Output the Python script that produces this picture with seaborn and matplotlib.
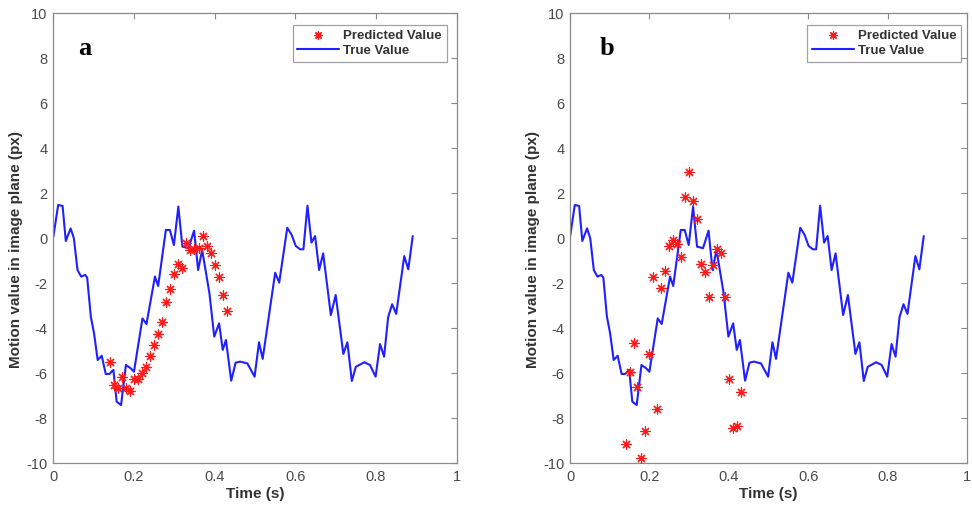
import matplotlib
matplotlib.use("Agg")
import matplotlib.pyplot as plt
import seaborn as sns
import numpy as np
import pandas as pd
from matplotlib.lines import Line2D

# ---------------- data ----------------
true_time = [0.000, 0.012, 0.023, 0.031, 0.043, 0.051, 0.060, 0.069, 0.079, 0.084,
             0.093, 0.101, 0.110, 0.120, 0.130, 0.139, 0.149, 0.157, 0.168, 0.180,
             0.192, 0.200, 0.221, 0.231, 0.252, 0.260, 0.279, 0.289, 0.299, 0.310,
             0.320, 0.335, 0.349, 0.359, 0.369, 0.387, 0.399, 0.411, 0.420, 0.428,
             0.441, 0.452, 0.463, 0.481, 0.499, 0.510, 0.519, 0.550, 0.560, 0.580,
             0.591, 0.601, 0.612, 0.620, 0.630, 0.640, 0.649, 0.659, 0.669, 0.688,
             0.700, 0.719, 0.729, 0.740, 0.750, 0.771, 0.785, 0.799, 0.810, 0.820,
             0.830, 0.840, 0.850, 0.870, 0.880, 0.891]
true_value = [0.05, 1.48, 1.44, -0.12, 0.44, 0.00, -1.41, -1.70, -1.63, -1.75,
              -3.48, -4.22, -5.41, -5.22, -6.03, -6.03, -5.85, -7.26, -7.41, -5.63,
              -5.78, -5.93, -3.56, -3.81, -1.70, -2.12, 0.37, 0.37, -0.30, 1.41,
              -0.37, -0.44, 0.34, -1.41, -0.52, -2.44, -4.37, -3.78, -4.96, -4.52,
              -6.33, -5.53, -5.48, -5.56, -6.15, -4.62, -5.36, -1.53, -1.97, 0.47,
              0.15, -0.34, -0.49, -0.49, 1.45, -0.19, 0.10, -1.41, -0.67, -3.41,
              -2.52, -5.14, -4.62, -6.34, -5.71, -5.51, -5.63, -6.15, -4.70, -5.26,
              -3.51, -2.93, -3.36, -0.79, -1.38, 0.10]

pred_time = [0.14, 0.15, 0.16, 0.17, 0.18, 0.19, 0.20, 0.21, 0.22, 0.23,
             0.24, 0.25, 0.26, 0.27, 0.28, 0.29, 0.30, 0.31, 0.32, 0.33,
             0.34, 0.35, 0.36, 0.37, 0.38, 0.39, 0.40, 0.41, 0.42, 0.43]
pred_a = [-5.48, -6.52, -6.67, -6.15, -6.67, -6.77, -6.25, -6.27, -6.00, -5.73,
          -5.22, -4.74, -4.25, -3.70, -2.82, -2.27, -1.59, -1.14, -1.33, -0.22,
          -0.52, -0.49, -0.44, 0.10, -0.34, -0.64, -1.19, -1.71, -2.52, -3.22]
pred_b = [-9.14, -5.96, -4.64, -6.62, -9.75, -8.56, -5.14, -1.73, -7.60, -2.22,
          -1.45, -0.34, -0.07, -0.27, -0.82, 1.85, 2.93, 1.66, 0.84, -1.16,
          -1.48, -2.62, -1.19, -0.49, -0.65, -2.62, -6.25, -8.44, -8.33, -6.82]

panel_labels = ["a", "b"]
legend_labels = ["Predicted Value", "True Value"]
x_ticks = [0, 0.2, 0.4, 0.6, 0.8, 1]
x_tick_labels = ["0", "0.2", "0.4", "0.6", "0.8", "1"]
y_ticks = [-10, -8, -6, -4, -2, 0, 2, 4, 6, 8, 10]

# ---------------- style ----------------
sns.set_theme(style="white")
plt.rcParams["font.family"] = ["Liberation Sans", "DejaVu Sans"]
plt.rcParams["axes.unicode_minus"] = False

W, H = 972, 507
fig = plt.figure(figsize=(W / 100, H / 100), dpi=100)

spine_col = "#8a8a8a"
tick_col = "#4a4a4a"
label_col = "#333333"
line_col = "#2020ff"
star_col = "#ff1a1a"
asterisk = (8, 2, 0)

true_df = pd.DataFrame({"Time": true_time, "Value": true_value})

boxes = [(53.3, 13.3, 456.7, 463.3), (570.0, 13.3, 967.0, 463.3)]
preds = [pred_a, pred_b]

for i, (x0, y0, x1, y1) in enumerate(boxes):
    ax = fig.add_axes([x0 / W, 1 - y1 / H, (x1 - x0) / W, (y1 - y0) / H])
    pdf = pd.DataFrame({"Time": pred_time, "Value": preds[i]})
    sns.scatterplot(data=pdf, x="Time", y="Value", ax=ax, marker=asterisk,
                    color=star_col, s=44, linewidths=0.85, zorder=3)
    sns.lineplot(data=true_df, x="Time", y="Value", ax=ax, sort=False,
                 estimator=None, color=line_col, lw=1.5, zorder=2)

    ax.set_xlim(0, 1)
    ax.set_ylim(-10, 10)
    ax.set_xticks(x_ticks)
    ax.set_xticklabels(x_tick_labels)
    ax.set_yticks(y_ticks)
    ax.tick_params(direction="in", length=4, width=0.8, colors=spine_col,
                   labelcolor=tick_col, labelsize=10.5, top=True, right=True)
    ax.tick_params(axis="x", pad=5)
    ax.tick_params(axis="y", pad=4)
    for sp in ax.spines.values():
        sp.set_visible(True)
        sp.set_color(spine_col)
        sp.set_linewidth(0.9)

    ax.set_xlabel("Time (s)", fontsize=11, fontweight="bold", color=label_col,
                  labelpad=2)
    ax.set_ylabel("Motion value in image plane (px)", fontsize=11,
                  fontweight="bold", color=label_col, labelpad=4)
    ax.yaxis.set_label_coords(-0.075 if i == 0 else -0.076, 0.475)

    handles = [Line2D([], [], marker=asterisk, color=star_col, linestyle="None",
                      markersize=6, markeredgewidth=0.9),
               Line2D([], [], color=line_col, lw=1.5)]
    ax_w = x1 - x0
    ax_h = y1 - y0
    leg = ax.legend(handles, legend_labels, loc="upper right",
                    bbox_to_anchor=(1 - (10 if i == 0 else 6) / ax_w, 1 - 12 / ax_h),
                    borderaxespad=0, frameon=True, fancybox=False,
                    prop={"weight": "bold", "size": 9.5}, handlelength=3.2,
                    handletextpad=0.3, labelspacing=0.2, borderpad=0.35)
    leg.get_frame().set_edgecolor("#8a8a8a")
    leg.get_frame().set_linewidth(0.9)
    for t in leg.get_texts():
        t.set_color("#333333")

    ax.text(0.079 if i == 0 else 0.093, 8.45, panel_labels[i],
            fontsize=19, fontweight="bold", ha="center", va="center",
            family=["Liberation Serif", "DejaVu Serif"], color="black")

fig.savefig("out.png", dpi=100)
